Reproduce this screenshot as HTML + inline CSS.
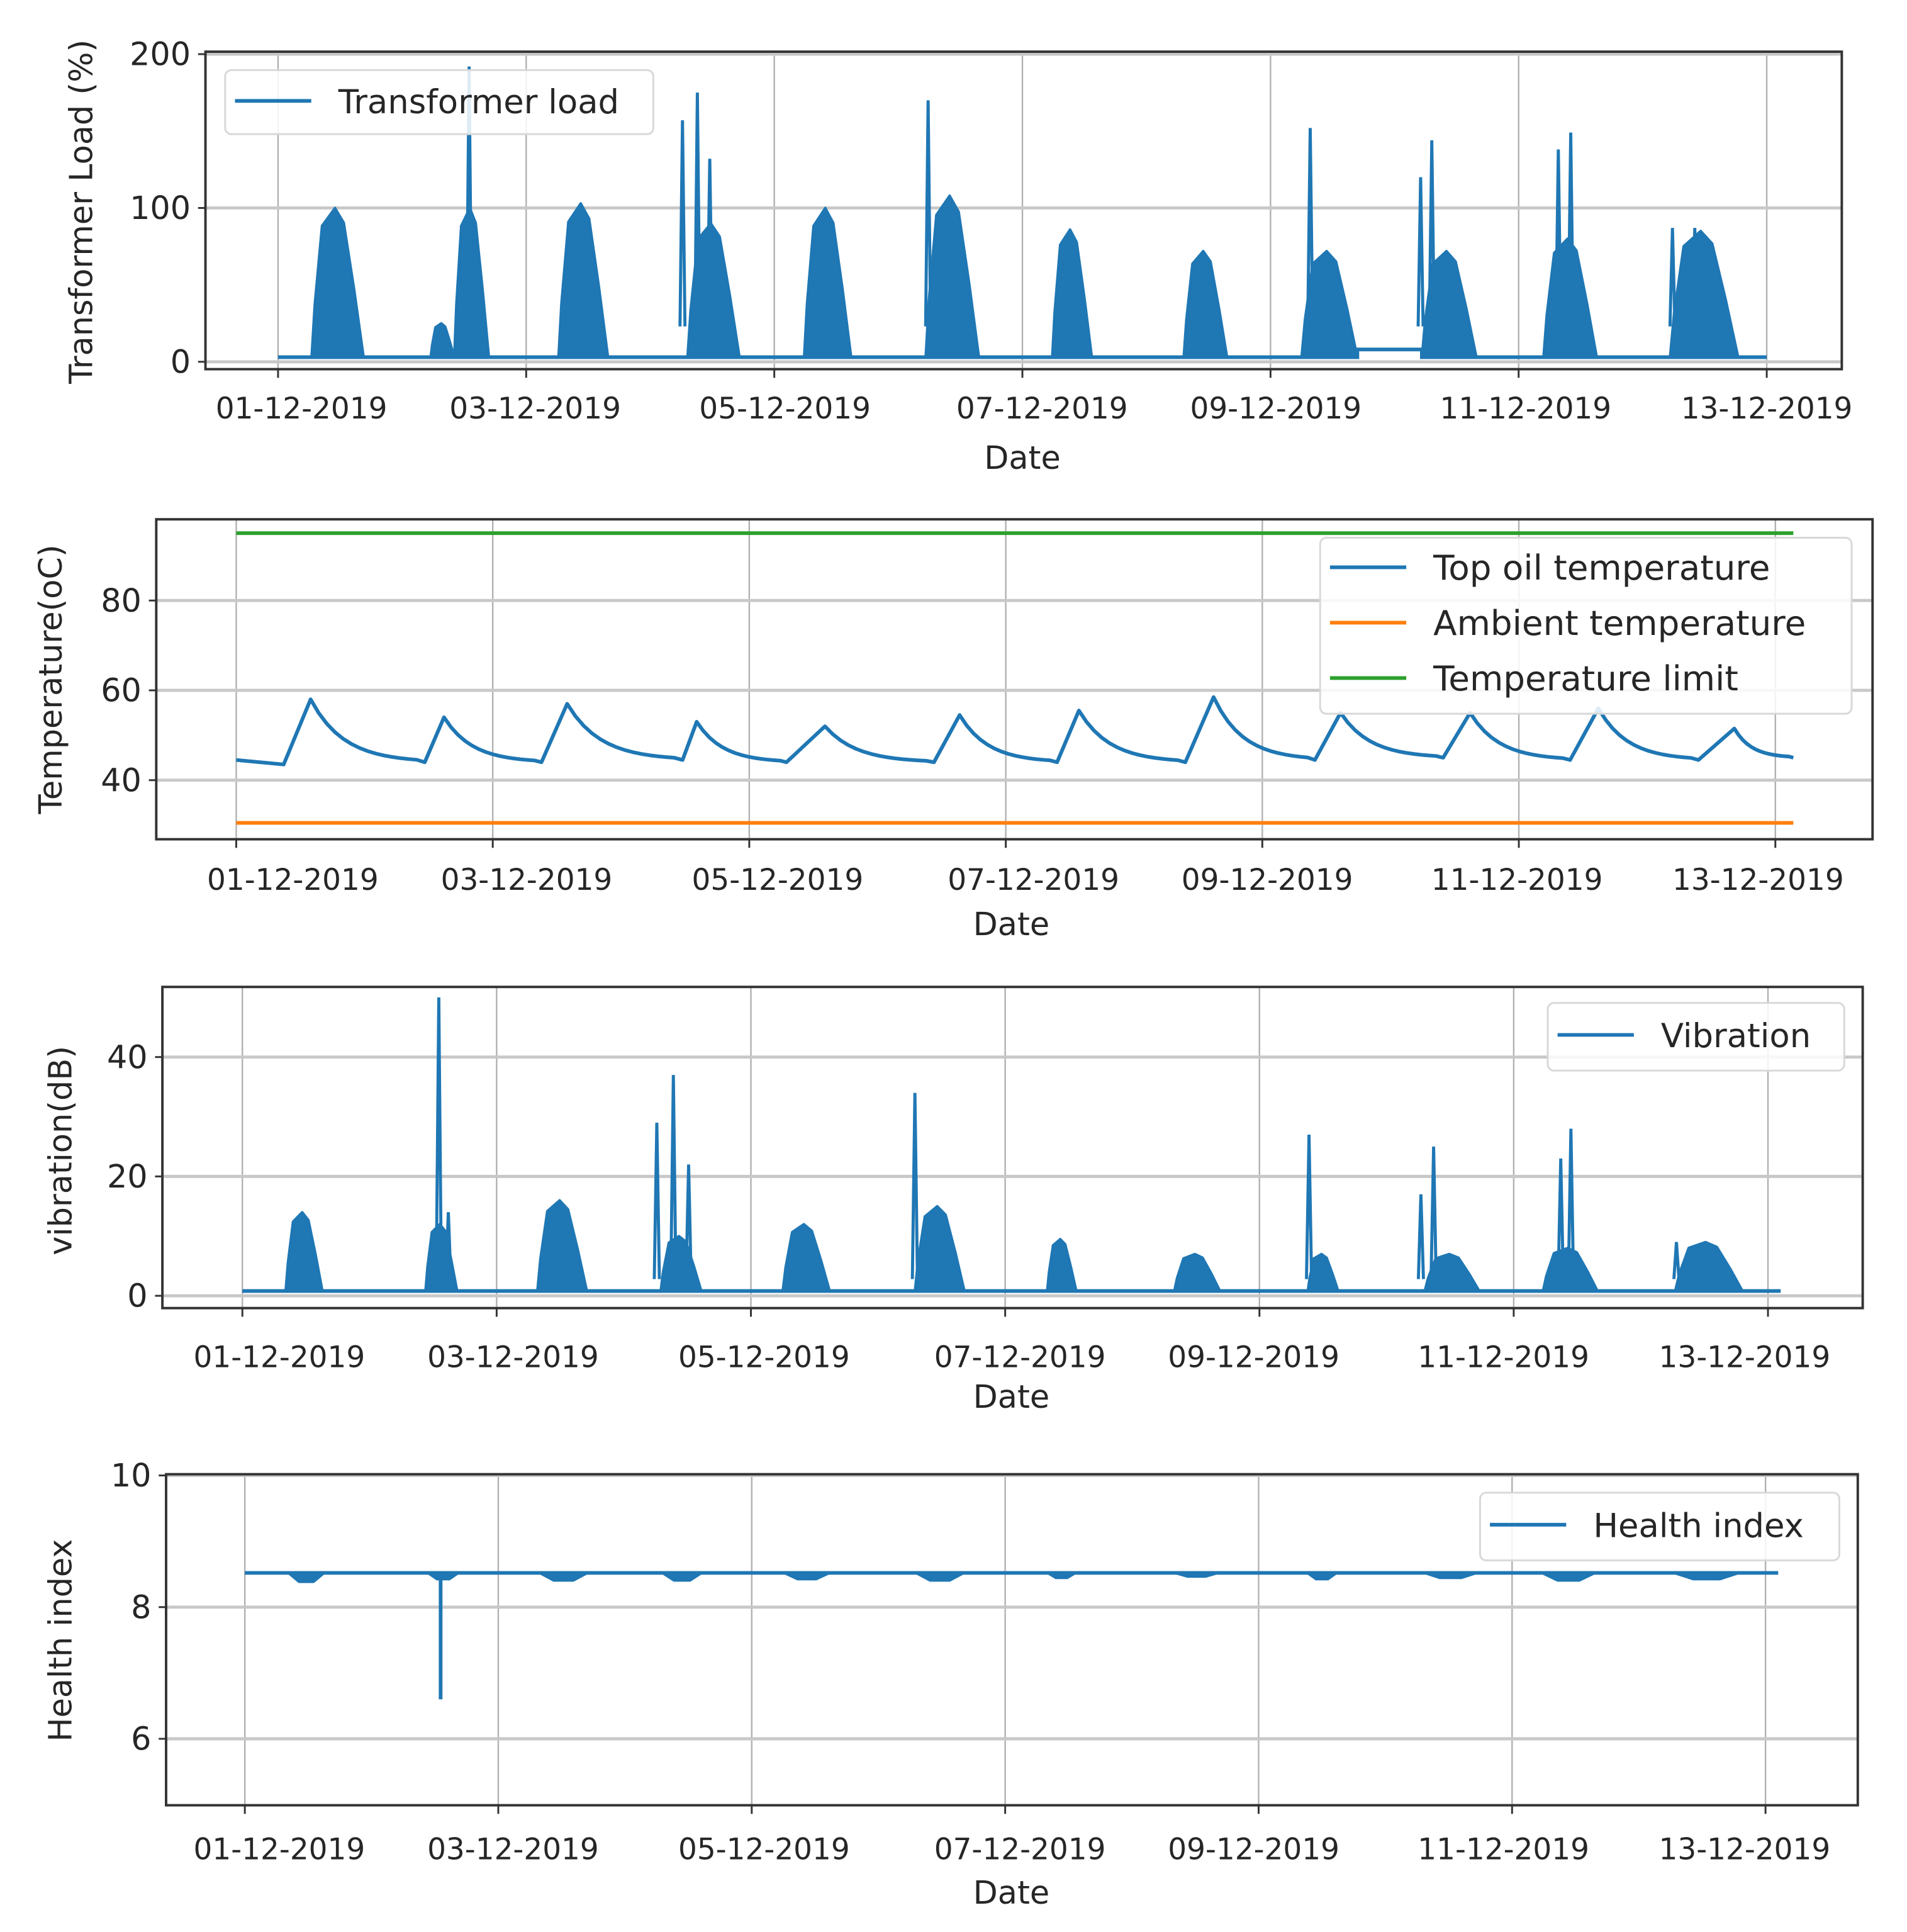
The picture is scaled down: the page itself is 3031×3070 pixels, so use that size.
<!DOCTYPE html>
<html><head><meta charset="utf-8">
<style>
html,body{margin:0;padding:0;background:#fff;}
svg{display:block;}
text{font-family:"DejaVu Sans","Liberation Sans",sans-serif;fill:#262626;}
</style></head>
<body>
<svg id="chart" xmlns="http://www.w3.org/2000/svg" width="3031" height="3070" viewBox="0 0 1550 1570" preserveAspectRatio="none"></svg>
<script>
// ---------- data (days since 01-12-2019) ----------
const dateTicks = ["01-12-2019","03-12-2019","05-12-2019","07-12-2019","09-12-2019","11-12-2019","13-12-2019"];
const tickDays = [0,2,4,6,8,10,12];

// Load humps: [startDay, endDay, peak%]
const loadHumps = [[0.27,0.69,100],[1.23,1.42,25],[1.42,1.70,100],[2.26,2.66,103],[3.30,3.72,90],[4.24,4.62,100],[5.22,5.65,108],[6.24,6.56,86],[7.30,7.65,72],[8.25,8.70,72],[9.22,9.66,72],[10.20,10.63,80],[11.22,11.77,85]];
const loadSpikes = [[1.54,192],[3.26,157],[3.38,175],[3.48,132],[5.24,170],[8.32,152],[9.21,120],[9.30,144],[10.32,138],[10.42,149],[11.24,87],[11.42,87]];
const loadBase = 3;
const loadStart = 0, loadEnd = 12.0;
const loadShelf = [8.70,9.22,8];

// Temperature
const tempMinDays = [0.37,1.47,2.38,3.48,4.29,5.44,6.40,7.40,8.41,9.41,10.40,11.40];
const tempMinVals = [43.5,44.0,44.0,44.5,44.0,44.0,44.0,44.0,44.5,45.0,44.5,44.5];
const tempPeakDays = [0.58,1.62,2.58,3.59,4.59,5.64,6.57,7.62,8.61,9.62,10.62,11.68];
const tempPeakVals = [58,54,57,53,52,54.5,55.5,58.5,55,55,56,51.5];
const tempStartVal = 44.5, tempEndDay = 12.14, tempEndVal = 45;
const ambientTemp = 30.5, tempLimit = 95;

// Vibration
const vibHumps = [[0.34,0.63,14],[1.44,1.69,12],[2.32,2.71,16],[3.29,3.61,10],[4.25,4.62,12],[5.29,5.68,15],[6.33,6.56,9.5],[7.33,7.69,7],[8.38,8.62,7],[9.30,9.73,7],[10.23,10.66,8],[11.27,11.80,9]];
const vibSpikes = [[1.545,50],[1.62,14],[3.26,29],[3.39,37],[3.51,22],[5.29,34],[8.39,27],[9.27,17],[9.37,25],[10.37,23],[10.45,28],[11.28,9]];
const vibBase = 0.8, vibEnd = 12.1;

// Health index
const healthBase = 8.52, healthEnd = 12.1;
const healthDips = [[0.34,0.63,8.38],[1.44,1.69,8.42],[2.32,2.71,8.40],[3.29,3.61,8.40],[4.25,4.62,8.42],[5.29,5.68,8.40],[6.33,6.56,8.44],[7.33,7.69,8.46],[8.38,8.62,8.42],[9.30,9.73,8.44],[10.23,10.66,8.40],[11.27,11.80,8.42]];
const healthSpikes = [[1.545,6.6]];

// ---------- drawing ----------
const NS="http://www.w3.org/2000/svg";
const svg=document.getElementById('chart');
const BLUE="#1f77b4";
function el(tag,attrs,parent){const e=document.createElementNS(NS,tag);for(const k in attrs)e.setAttribute(k,attrs[k]);(parent||svg).appendChild(e);return e;}

function makePanel(p){
  const g=el('g',{});
  
  
  const X=d=>p.x0+(d)*(p.x12-p.x0)/12;
  const Y=v=>p.yA+(v-p.vA)*(p.yB-p.yA)/(p.vB-p.vA);
  tickDays.forEach(d=>{const l=el('line',{x1:X(d),x2:X(d),y1:p.top,y2:p.bottom,stroke:'#b0b0b0','stroke-width':1.2},g);
    });
  p.yticks.forEach(v=>{const l=el('line',{x1:p.left,x2:p.right,y1:Y(v),y2:Y(v),stroke:'#c8c8c8','stroke-width':2.5},g);
    });
  tickDays.forEach((d,i)=>{el('line',{x1:X(d),x2:X(d),y1:p.bottom,y2:p.bottom+7,stroke:'#333','stroke-width':1.5},g);
    const t=el('text',{x:p.lblX[i],y:p.tickY,'font-size':24,'text-anchor':'middle'},g);t.textContent=dateTicks[i];
    });
  p.yticks.forEach(v=>{el('line',{x1:p.left-6,x2:p.left,y1:Y(v),y2:Y(v),stroke:'#333','stroke-width':1.5},g);
    const t=el('text',{x:p.left-12,y:Y(v)+9,'font-size':26,'text-anchor':'end'},g);t.textContent=String(v);
    });
  const sg=el('g',{},g);
  p.draw(sg,X,Y);
  const fr=el('rect',{x:p.left,y:p.top,width:p.right-p.left,height:p.bottom-p.top,fill:'none',stroke:'#333','stroke-width':2},g);
  
  const xl=el('text',{x:p.xlabX,y:p.xlabY,'font-size':26,'text-anchor':'middle'},g);xl.textContent='Date';
  
  const yl=el('text',{x:0,y:0,'font-size':26,'text-anchor':'middle',transform:`translate(${p.ylabX},${p.ylabY}) rotate(-90)`},g);yl.textContent=p.ylabel;
  
  const lg=el('g',{},g);
  el('rect',{x:p.leg.x,y:p.leg.y,width:p.leg.w,height:p.leg.h,rx:5,fill:'#fff','fill-opacity':0.85,stroke:'#d8d8d8','stroke-width':1.5},lg);
  p.leg.items.forEach((it,i)=>{const cy=p.leg.y+p.leg.first+i*45;
    const e=el('g',{},lg);
    el('line',{x1:p.leg.x+8,x2:p.leg.x+70,y1:cy,y2:cy,stroke:it[1],'stroke-width':3},e);
    const t=el('text',{x:p.leg.x+92,y:cy+10,'font-size':p.leg.fs||27},e);t.textContent=it[0];});
}
function hump(sg,X,Y,s,e,pk,base,cls){
  const w=e-s;
  const pts=[[s,base],[s+w*0.06,base+(pk-base)*0.35],[s+w*0.2,base+(pk-base)*0.88],[s+w*0.45,pk],[s+w*0.62,base+(pk-base)*0.9],[s+w*0.82,base+(pk-base)*0.45],[e,base]];
  const poly=el('polygon',{points:pts.map(q=>X(q[0])+','+Y(q[1])).join(' '),fill:BLUE,stroke:BLUE,'stroke-width':2,'stroke-linejoin':'round'},sg);
  
}
function spike(sg,X,Y,d,v,base){
  const l=el('polyline',{points:`${X(d-0.02)},${Y(base)} ${X(d)},${Y(v)} ${X(d+0.02)},${Y(base)}`,fill:'none',stroke:BLUE,'stroke-width':2.5},sg);
  
}

makePanel({name:'load-panel',seriesName:'transformer-load-series',left:167,right:1497,top:42,bottom:300,x0:226,x12:1436,vA:0,yA:294,vB:200,yB:44,
  yticks:[0,100,200],tickY:340,lblX:[245,435,638,847,1037,1240,1436],xlabX:831,xlabY:381,ylabX:75,ylabY:172,ylabel:'Transformer Load (%)',
  leg:{x:183,y:57,w:348,h:52,first:25,items:[['Transformer load',BLUE]]},
  draw:(sg,X,Y)=>{
    const b=el('polyline',{points:`${X(loadStart)},${Y(loadBase)} ${X(loadShelf[0])},${Y(loadBase)} ${X(loadShelf[0])},${Y(loadShelf[2])} ${X(loadShelf[1])},${Y(loadShelf[2])} ${X(loadShelf[1])},${Y(loadBase)} ${X(loadEnd)},${Y(loadBase)}`,fill:'none',stroke:BLUE,'stroke-width':3},sg);
    
    loadHumps.forEach(h=>hump(sg,X,Y,h[0],h[1],h[2],loadBase,'load-hump'));
    loadSpikes.forEach(s=>spike(sg,X,Y,s[0],s[1],loadBase+20));
  }});

makePanel({name:'temperature-panel',seriesName:'temperature-series',left:127,right:1522,top:422,bottom:682,x0:192,x12:1443,vA:40,yA:634,vB:80,yB:488,
  yticks:[40,60,80],tickY:723,lblX:[238,428,632,840,1030,1233,1429],xlabX:822,xlabY:760,ylabX:50,ylabY:552,ylabel:'Temperature(oC)',
  leg:{x:1073,y:437,w:432,h:143,first:24,fs:28,items:[['Top oil temperature',BLUE],['Ambient temperature','#ff7f0e'],['Temperature limit','#2ca02c']]},
  draw:(sg,X,Y)=>{
    const lim=el('line',{x1:X(0),x2:X(12.14),y1:Y(tempLimit),y2:Y(tempLimit),stroke:'#2ca02c','stroke-width':3},sg);
    
    const amb=el('line',{x1:X(0),x2:X(12.14),y1:Y(ambientTemp),y2:Y(ambientTemp),stroke:'#ff7f0e','stroke-width':3},sg);
    
    const pts=[[0,tempStartVal]];
    for(let i=0;i<tempPeakDays.length;i++){
      pts.push([tempMinDays[i],tempMinVals[i]]);
      pts.push([tempPeakDays[i],tempPeakVals[i]]);
      const nd=i+1<tempMinDays.length?tempMinDays[i+1]:tempEndDay;
      const nv=i+1<tempMinVals.length?tempMinVals[i+1]:tempEndVal;
      for(let k=1;k<14;k++){const f=k/14;const d=tempPeakDays[i]+(nd-tempPeakDays[i])*f;
        const v=nv+(tempPeakVals[i]-nv)*Math.exp(-3.2*f)*(1-f*0.25);pts.push([d,v]);}
    }
    pts.push([tempEndDay,tempEndVal]);
    const l=el('polyline',{points:pts.map(q=>X(q[0])+','+Y(q[1])).join(' '),fill:'none',stroke:BLUE,'stroke-width':3,'stroke-linejoin':'round'},sg);
    
  }});

makePanel({name:'vibration-panel',seriesName:'vibration-series',left:132,right:1514,top:802,bottom:1063,x0:197,x12:1437,vA:0,yA:1053,vB:40,yB:859,
  yticks:[0,20,40],tickY:1111,lblX:[227,417,621,829,1019,1222,1418],xlabX:822,xlabY:1144,ylabX:58,ylabY:935,ylabel:'vibration(dB)',
  leg:{x:1258,y:815,w:241,h:55,first:26,items:[['Vibration',BLUE]]},
  draw:(sg,X,Y)=>{
    const b=el('line',{x1:X(0),x2:X(vibEnd),y1:Y(vibBase),y2:Y(vibBase),stroke:BLUE,'stroke-width':3},sg);
    
    vibHumps.forEach(h=>hump(sg,X,Y,h[0],h[1],h[2],vibBase,'vibration-hump'));
    vibSpikes.forEach(s=>spike(sg,X,Y,s[0],s[1],vibBase+2));
  }});

makePanel({name:'health-panel',seriesName:'health-index-series',left:135,right:1510,top:1198,bottom:1467,x0:199,x12:1435,vA:6,yA:1413,vB:8,yB:1306,
  yticks:[6,8,10],tickY:1511,lblX:[227,417,621,829,1019,1222,1418],xlabX:822,xlabY:1547,ylabX:58,ylabY:1333,ylabel:'Health index',
  leg:{x:1203,y:1213,w:292,h:55,first:26,items:[['Health index',BLUE]]},
  draw:(sg,X,Y)=>{
    healthDips.forEach(h=>{const p=el('polygon',{points:`${X(h[0])},${Y(healthBase)} ${X(h[0]+(h[1]-h[0])*0.3)},${Y(h[2])} ${X(h[0]+(h[1]-h[0])*0.7)},${Y(h[2])} ${X(h[1])},${Y(healthBase)}`,fill:BLUE,stroke:BLUE,'stroke-width':1.5},sg);
      });
    const b=el('line',{x1:X(0),x2:X(healthEnd),y1:Y(healthBase),y2:Y(healthBase),stroke:BLUE,'stroke-width':3},sg);
    
    healthSpikes.forEach(s=>{const l=el('line',{x1:X(s[0]),x2:X(s[0]),y1:Y(healthBase),y2:Y(s[1]),stroke:BLUE,'stroke-width':3},sg);
      });
  }});
</script>
</body></html>
